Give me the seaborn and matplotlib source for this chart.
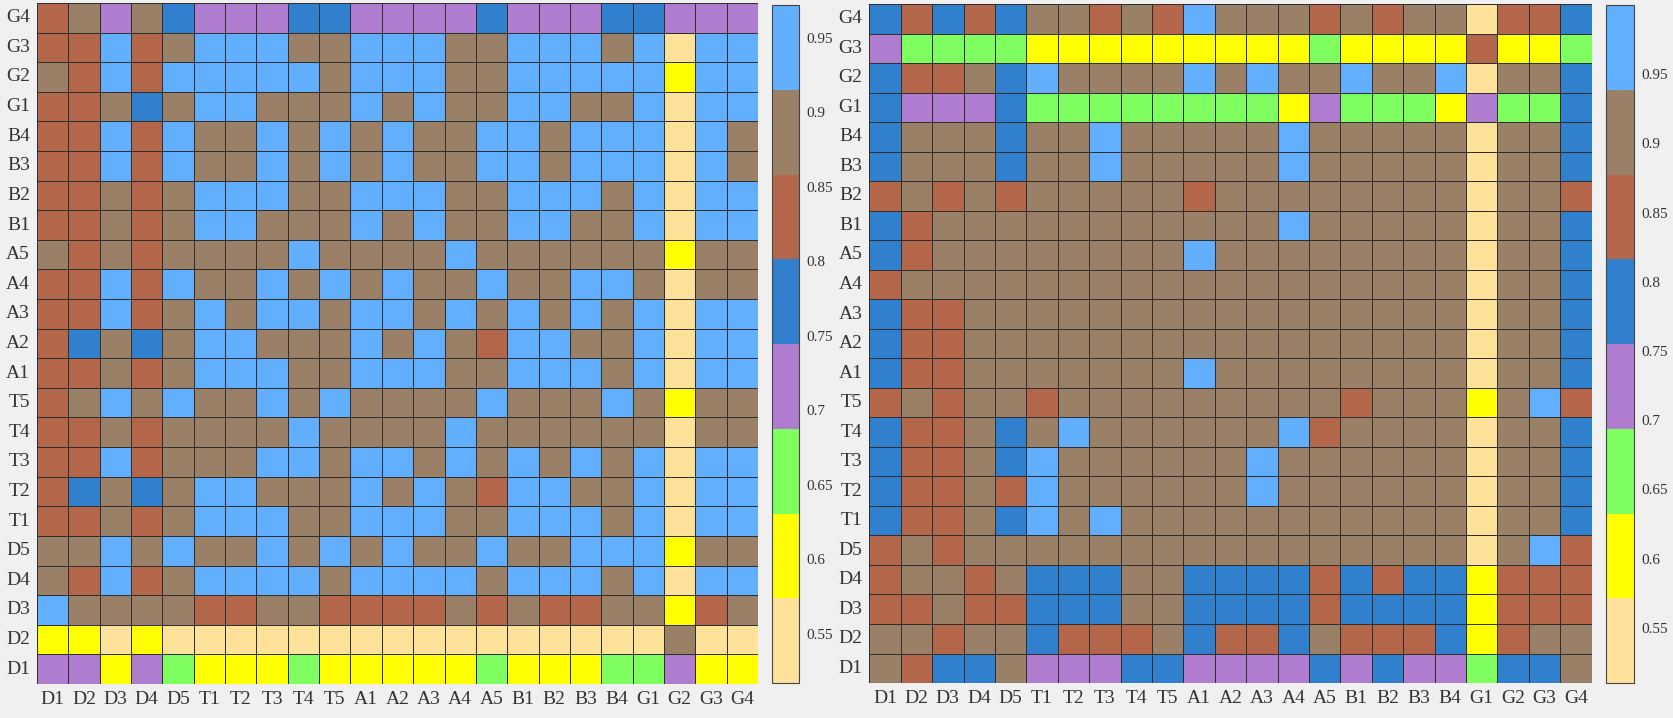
import pandas as pd
import seaborn as sns
import matplotlib.pyplot as plt
from matplotlib.colors import ListedColormap

labels = ['D1', 'D2', 'D3', 'D4', 'D5', 'T1', 'T2', 'T3', 'T4', 'T5',
          'A1', 'A2', 'A3', 'A4', 'A5', 'B1', 'B2', 'B3', 'B4',
          'G1', 'G2', 'G3', 'G4']

# one letter per cell, rows from the top (G4) down to D1, columns D1..G4
# y light yellow, Y yellow, g green, p purple, d dark blue, r brick, n brown, b light blue
left_rows = [
    "rnpndpppdd" + "ppppd" + "pppd" + "dppp",   # G4
    "rrbrnbbbnn" + "bbbnn" + "bbbn" + "bybb",   # G3
    "nrbrbbbbbn" + "bbbnn" + "bbbb" + "bYbb",   # G2
    "rrndnbbnnn" + "bnbnn" + "bbnn" + "bybb",   # G1
    "rrbrbnnbnb" + "nbnnb" + "bnbb" + "bybn",   # B4
    "rrbrbnnbnb" + "nbnnb" + "bnbb" + "bybn",   # B3
    "rrnrnbbbnn" + "bbbnn" + "bbbn" + "bybb",   # B2
    "rrnrnbbnnn" + "bnbnn" + "bbnn" + "bybb",   # B1
    "nrnrnnnnbn" + "nnnbn" + "nnnn" + "nYnn",   # A5
    "rrbrbnnbnb" + "nbnnb" + "nnbb" + "nynn",   # A4
    "rrbrnbnbbn" + "bbnbn" + "bnbn" + "bybb",   # A3
    "rdndnbbnnn" + "bnbnr" + "bbnn" + "bybb",   # A2
    "rrnrnbbbnn" + "bbbnn" + "bbbn" + "bybb",   # A1
    "rnbnbnnbnb" + "nnnnb" + "nnnb" + "nYnn",   # T5
    "rrnrnnnnbn" + "nnnbn" + "nnnn" + "nynn",   # T4
    "rrbrnnnbbn" + "bbnbn" + "bnbn" + "bybb",   # T3
    "rdndnbbnnn" + "bnbnr" + "bbnn" + "bybb",   # T2
    "rrnrnbbbnn" + "bbbnn" + "bbbn" + "bybb",   # T1
    "nnbnbnnbnb" + "nbnnb" + "nnbb" + "bYnn",   # D5
    "nrbrnbbbbn" + "bbbbn" + "bbbn" + "bybb",   # D4
    "bnnnnrrnnr" + "rrrnr" + "nrrn" + "nYrn",   # D3
    "YYyYyyyyyy" + "yyyyy" + "yyyy" + "ynyy",   # D2
    "ppYpgYYYgY" + "YYYYg" + "YYYg" + "gpYY",   # D1
]

right_rows = [
    "drdrdnnrnr" + "bnnnr" + "nrnn" + "yrrd",   # G4
    "pggggYYYYY" + "YYYYg" + "YYYY" + "rYYg",   # G3
    "drrndbnnnn" + "bnbnn" + "bnnb" + "ynnd",   # G2
    "dpppdggggg" + "gggYp" + "gggY" + "pggd",   # G1
    "dnnndnnbnn" + "nnnbn" + "nnnn" + "ynnd",   # B4
    "dnnndnnbnn" + "nnnbn" + "nnnn" + "ynnd",   # B3
    "rnrnrnnnnn" + "rnnnn" + "nnnn" + "ynnr",   # B2
    "drnnnnnnnn" + "nnnbn" + "nnnn" + "ynnd",   # B1
    "drnnnnnnnn" + "bnnnn" + "nnnn" + "ynnd",   # A5
    "rnnnnnnnnn" + "nnnnn" + "nnnn" + "ynnd",   # A4
    "drrnnnnnnn" + "nnnnn" + "nnnn" + "ynnd",   # A3
    "drrnnnnnnn" + "nnnnn" + "nnnn" + "ynnd",   # A2
    "drrnnnnnnn" + "bnnnn" + "nnnn" + "ynnd",   # A1
    "rnrnnrnnnn" + "nnnnn" + "rnnn" + "Ynbr",   # T5
    "drrndnbnnn" + "nnnbr" + "nnnn" + "ynnd",   # T4
    "drrndbnnnn" + "nnbnn" + "nnnn" + "ynnd",   # T3
    "drrnrbnnnn" + "nnbnn" + "nnnn" + "ynnd",   # T2
    "drrndbnbnn" + "nnnnn" + "nnnn" + "ynnd",   # T1
    "rnrnnnnnnn" + "nnnnn" + "nnnn" + "ynbr",   # D5
    "rnnrndddnn" + "ddddr" + "drdd" + "Yrrr",   # D4
    "rrnrrdddnn" + "ddddr" + "dddd" + "Yrrr",   # D3
    "nnrnndrrrn" + "drrdn" + "rrrd" + "Yrnn",   # D2
    "nrddnpppdd" + "ppppd" + "pdpp" + "gddn",   # D1
]

# value estimated for each colour class (middle of its colour bar band)
left_levels = {'y': 0.545, 'Y': 0.602, 'g': 0.659, 'p': 0.716,
               'd': 0.773, 'r': 0.830, 'n': 0.887, 'b': 0.944}
right_levels = {'y': 0.541, 'Y': 0.602, 'g': 0.663, 'p': 0.724,
                'd': 0.786, 'r': 0.847, 'n': 0.908, 'b': 0.969}

left_range = (0.517, 0.972)
right_range = (0.51, 1.0)
cbar_ticks = [0.55, 0.6, 0.65, 0.7, 0.75, 0.8, 0.85, 0.9, 0.95]

colors = ['#FFE29A', '#FFFF00', '#7FFF5F', '#B07CD0',
          '#3180CE', '#B4664A', '#9A8066', '#62AFFF']
cmap = ListedColormap(colors)


def to_frame(rows, levels):
    vals = [[levels[c] for c in row] for row in rows]
    return pd.DataFrame(vals, index=labels[::-1], columns=labels)


sns.set_theme(style='white')
plt.rcParams['font.family'] = ['Liberation Serif', 'DejaVu Serif']
text_col = '#333333'

fig = plt.figure(figsize=(16.74, 7.18), dpi=100, facecolor='#f0f0f0')
ax1 = fig.add_axes([0.0221, 0.0474, 0.4307, 0.9485])
cax1 = fig.add_axes([0.4612, 0.0487, 0.0163, 0.9443])
ax2 = fig.add_axes([0.5193, 0.0487, 0.4315, 0.9457])
cax2 = fig.add_axes([0.9594, 0.0487, 0.0167, 0.9443])

for ax, cax, rows, levels, (lo, hi) in [
        (ax1, cax1, left_rows, left_levels, left_range),
        (ax2, cax2, right_rows, right_levels, right_range)]:
    df = to_frame(rows, levels)
    sns.heatmap(df, ax=ax, cbar_ax=cax, cmap=cmap, vmin=lo, vmax=hi,
                linewidths=0.7, linecolor='#2e2e2e',
                cbar_kws={'ticks': cbar_ticks})
    ax.tick_params(length=0, labelsize=14, pad=5, colors=text_col)
    ax.set_xticklabels(labels, rotation=0)
    ax.set_yticklabels(labels[::-1], rotation=0)
    ax.set_xlabel('')
    ax.set_ylabel('')
    cbar = ax.collections[0].colorbar
    cbar.set_ticklabels([f'{t:g}' for t in cbar_ticks])
    cbar.outline.set_edgecolor('#444444')
    cbar.outline.set_linewidth(0.8)
    cax.tick_params(direction='in', length=4, width=0.8, labelsize=11,
                    pad=5, colors=text_col)

fig.savefig('out.png', dpi=100, facecolor=fig.get_facecolor())
